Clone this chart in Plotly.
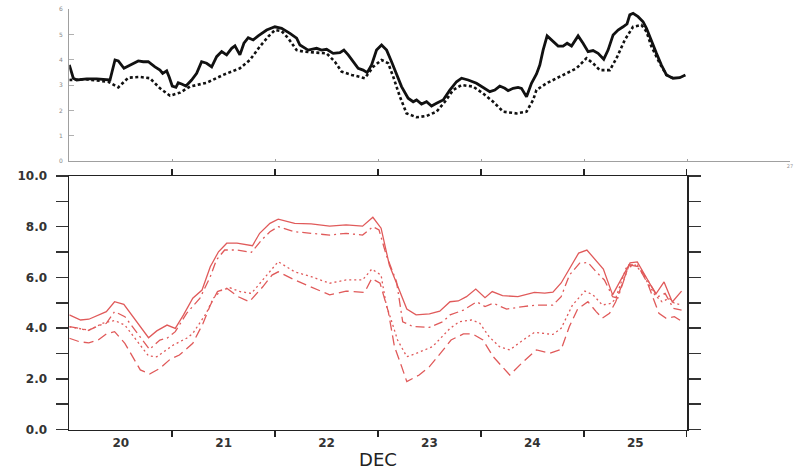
import plotly.graph_objects as go

# ---------------- data (x = days since Dec 20 00Z) ----------------
top_solid_day = [0.000, 0.039, 0.072, 0.169, 0.266, 0.395, 0.444, 0.476, 0.531, 0.589, 0.670, 0.718,
                 0.767, 0.832, 0.881, 0.907, 0.946, 0.971, 1.000, 1.036, 1.058, 1.091, 1.133, 1.188,
                 1.237, 1.285, 1.334, 1.383, 1.431, 1.480, 1.528, 1.577, 1.609, 1.657, 1.696, 1.738,
                 1.786, 1.835, 1.917, 1.997, 2.062, 2.143, 2.208, 2.240, 2.320, 2.402, 2.450, 2.499,
                 2.563, 2.628, 2.667, 2.709, 2.757, 2.806, 2.854, 2.893, 2.936, 2.984, 3.033, 3.082,
                 3.130, 3.179, 3.227, 3.291, 3.340, 3.373, 3.421, 3.470, 3.518, 3.567, 3.631, 3.696,
                 3.761, 3.810, 3.874, 3.955, 4.019, 4.084, 4.133, 4.181, 4.230, 4.262, 4.311, 4.359,
                 4.392, 4.441, 4.489, 4.538, 4.570, 4.602, 4.641, 4.699, 4.748, 4.796, 4.835, 4.878,
                 4.942, 4.990, 5.039, 5.087, 5.136, 5.191, 5.233, 5.282, 5.330, 5.379, 5.417, 5.444,
                 5.476, 5.524, 5.573, 5.606, 5.654, 5.703, 5.751, 5.800, 5.864, 5.929, 5.984]
top_solid_val = [3.80, 3.28, 3.21, 3.25, 3.25, 3.21, 4.00, 3.96, 3.67, 3.80, 3.96, 3.93,
                 3.93, 3.73, 3.60, 3.47, 3.57, 3.32, 2.97, 2.92, 3.10, 3.05, 2.97, 3.21,
                 3.47, 3.93, 3.87, 3.73, 4.13, 4.33, 4.20, 4.46, 4.56, 4.20, 4.66, 4.88,
                 4.79, 4.95, 5.18, 5.31, 5.25, 5.05, 4.86, 4.59, 4.39, 4.46, 4.39, 4.42,
                 4.26, 4.29, 4.39, 4.20, 3.93, 3.67, 3.60, 3.50, 3.80, 4.39, 4.59, 4.39,
                 3.93, 3.47, 2.95, 2.49, 2.35, 2.42, 2.26, 2.35, 2.18, 2.29, 2.42, 2.81,
                 3.14, 3.28, 3.21, 3.08, 2.92, 2.75, 2.81, 2.97, 2.88, 2.79, 2.88, 2.92,
                 2.88, 2.55, 3.08, 3.45, 3.80, 4.39, 4.95, 4.72, 4.55, 4.55, 4.66, 4.55,
                 4.95, 4.66, 4.33, 4.37, 4.26, 4.03, 4.39, 4.99, 5.18, 5.31, 5.42, 5.78,
                 5.84, 5.71, 5.51, 5.25, 4.72, 4.26, 3.80, 3.41, 3.28, 3.30, 3.41]

top_dash_day = [0.000, 0.152, 0.379, 0.476, 0.573, 0.686, 0.783, 0.881, 0.978, 1.075, 1.172, 1.334,
                1.495, 1.657, 1.754, 1.851, 1.932, 1.997, 2.062, 2.126, 2.208, 2.272, 2.369, 2.499,
                2.580, 2.645, 2.742, 2.871, 2.951, 3.033, 3.097, 3.146, 3.211, 3.276, 3.373, 3.470,
                3.567, 3.648, 3.728, 3.810, 3.922, 4.019, 4.117, 4.214, 4.344, 4.441, 4.505, 4.537,
                4.635, 4.732, 4.829, 4.926, 5.023, 5.087, 5.152, 5.250, 5.315, 5.395, 5.476, 5.557,
                5.606, 5.654, 5.735, 5.800, 5.864]
top_dash_val = [3.21, 3.24, 3.14, 2.92, 3.30, 3.33, 3.28, 2.88, 2.59, 2.71, 2.95, 3.10,
                3.41, 3.67, 4.00, 4.53, 4.92, 5.18, 5.14, 4.86, 4.39, 4.33, 4.30, 4.26,
                3.93, 3.54, 3.41, 3.28, 3.73, 4.00, 3.87, 3.34, 2.55, 1.89, 1.74, 1.79,
                1.96, 2.35, 2.81, 3.01, 2.95, 2.68, 2.35, 1.96, 1.89, 1.96, 2.42, 2.81,
                3.08, 3.28, 3.50, 3.67, 4.07, 3.87, 3.60, 3.60, 4.07, 4.79, 5.31, 5.38,
                5.12, 4.53, 3.87, 3.41, 3.28]

bot_solid_day = [0.00, 0.11, 0.19, 0.28, 0.36, 0.44, 0.53, 0.77, 0.85, 0.95, 1.03, 1.11, 1.20,
                 1.29, 1.37, 1.45, 1.53, 1.63, 1.71, 1.78, 1.85, 1.95, 2.03, 2.19, 2.35, 2.53,
                 2.69, 2.85, 2.95, 3.03, 3.11, 3.28, 3.37, 3.50, 3.60, 3.70, 3.78, 3.86, 3.95,
                 4.04, 4.11, 4.21, 4.36, 4.52, 4.62, 4.70, 4.78, 4.95, 5.03, 5.19, 5.28, 5.45,
                 5.52, 5.70, 5.78, 5.86, 5.95]
bot_solid_val = [4.52, 4.32, 4.35, 4.52, 4.65, 5.04, 4.94, 3.62, 3.89, 4.12, 3.99, 4.52, 5.18,
                 5.50, 6.42, 7.01, 7.35, 7.35, 7.31, 7.25, 7.74, 8.13, 8.30, 8.13, 8.11, 8.02,
                 8.07, 8.02, 8.37, 7.94, 6.49, 4.75, 4.52, 4.56, 4.67, 5.04, 5.07, 5.24, 5.54,
                 5.20, 5.44, 5.28, 5.24, 5.41, 5.38, 5.42, 5.78, 6.96, 7.08, 6.33, 5.31, 6.57,
                 6.61, 5.34, 5.82, 5.03, 5.46]

bot_dashdot_day = [0.00, 0.10, 0.18, 0.30, 0.36, 0.44, 0.54, 0.78, 0.88, 0.95, 1.03, 1.14, 1.27,
                   1.37, 1.43, 1.51, 1.63, 1.71, 1.77, 1.87, 1.95, 2.03, 2.19, 2.35, 2.53, 2.69,
                   2.85, 2.95, 3.01, 3.08, 3.18, 3.24, 3.34, 3.50, 3.63, 3.70, 3.83, 3.96, 4.04,
                   4.12, 4.25, 4.41, 4.54, 4.70, 4.78, 4.86, 4.96, 5.04, 5.12, 5.20, 5.28, 5.33,
                   5.44, 5.52, 5.61, 5.72, 5.79, 5.87, 5.95]
bot_dashdot_val = [4.06, 3.99, 3.90, 4.12, 4.19, 4.65, 4.45, 3.16, 3.53, 3.60, 3.86, 4.58, 5.18,
                   6.03, 6.69, 7.08, 7.08, 7.04, 6.99, 7.48, 7.80, 8.00, 7.80, 7.74, 7.67, 7.74,
                   7.67, 8.00, 7.87, 6.88, 5.83, 4.25, 4.06, 4.03, 4.25, 4.52, 4.71, 5.04, 4.85,
                   4.98, 4.75, 4.85, 4.91, 4.91, 5.24, 6.09, 6.56, 6.59, 6.22, 5.90, 5.24, 5.18,
                   6.49, 6.49, 5.96, 5.24, 5.37, 4.78, 4.71]

bot_dot_day = [0.00, 0.19, 0.33, 0.44, 0.54, 0.77, 0.85, 1.01, 1.14, 1.20, 1.33, 1.40, 1.48,
               1.56, 1.66, 1.77, 1.88, 1.97, 2.03, 2.19, 2.35, 2.53, 2.69, 2.85, 2.94, 3.03,
               3.08, 3.13, 3.19, 3.28, 3.37, 3.53, 3.70, 3.79, 3.91, 3.99, 4.08, 4.18, 4.28,
               4.41, 4.52, 4.70, 4.78, 4.89, 5.01, 5.09, 5.18, 5.27, 5.31, 5.41, 5.50, 5.56,
               5.69, 5.76, 5.83, 5.88, 5.95]
bot_dot_val = [4.05, 3.92, 4.20, 4.30, 4.12, 2.90, 2.87, 3.33, 3.60, 3.79, 4.58, 5.18, 5.50,
               5.59, 5.44, 5.37, 5.90, 6.36, 6.62, 6.22, 6.03, 5.77, 5.90, 5.90, 6.33, 6.09,
               4.91, 4.30, 3.53, 2.87, 3.00, 3.27, 3.99, 4.25, 4.32, 4.19, 3.66, 3.27, 3.14,
               3.53, 3.83, 3.75, 3.99, 4.91, 5.46, 5.31, 4.91, 4.98, 5.18, 6.36, 6.49, 6.22,
               5.31, 5.04, 5.18, 4.98, 4.91]

bot_dash_day = [0.00, 0.10, 0.19, 0.28, 0.36, 0.44, 0.54, 0.69, 0.78, 0.88, 0.98, 1.07, 1.20,
                1.30, 1.37, 1.44, 1.53, 1.64, 1.75, 1.88, 1.97, 2.03, 2.19, 2.35, 2.53, 2.69,
                2.87, 2.94, 3.02, 3.10, 3.16, 3.23, 3.28, 3.40, 3.50, 3.62, 3.71, 3.83, 3.92,
                4.02, 4.12, 4.28, 4.41, 4.54, 4.67, 4.78, 4.86, 4.94, 5.04, 5.12, 5.18, 5.25,
                5.31, 5.44, 5.53, 5.62, 5.73, 5.80, 5.88, 5.96]
bot_dash_val = [3.60, 3.46, 3.42, 3.53, 3.77, 3.86, 3.40, 2.35, 2.19, 2.41, 2.77, 2.94, 3.40,
                4.19, 4.90, 5.44, 5.57, 5.24, 5.04, 5.63, 6.09, 6.22, 5.90, 5.63, 5.31, 5.46,
                5.41, 5.96, 5.77, 4.65, 3.27, 2.48, 1.89, 2.15, 2.48, 3.07, 3.53, 3.77, 3.77,
                3.53, 2.87, 2.15, 2.67, 3.14, 3.01, 3.16, 4.06, 4.75, 5.04, 4.65, 4.39, 4.58,
                5.04, 6.49, 6.42, 5.77, 4.58, 4.39, 4.45, 4.25]

top_ytick_vals = [0, 1, 2, 3, 4, 5, 6]
top_ytick_text = ["0", "1", "2", "3", "4", "5", "6"]
top_xtick_vals = [1, 2, 3, 4, 5, 6, 7]
top_xtick_text = ["", "", "", "", "", "", "27"]
bot_ytick_vals = [0, 1, 2, 3, 4, 5, 6, 7, 8, 9, 10]
bot_ytick_text = ["0.0", "", "2.0", "", "4.0", "", "6.0", "", "8.0", "", "10.0"]
day_label_pos = [0.5, 1.5, 2.5, 3.5, 4.5, 5.5]
day_labels = ["20", "21", "22", "23", "24", "25"]
day_bounds = [1, 2, 3, 4, 5, 6]

# ---------------- figure ----------------
W, H = 798, 476
def px(x):
    return x / W
def py(y):
    return 1 - y / H

RED = "#e05a5a"
fig = go.Figure()

fig.add_trace(go.Scatter(x=top_dash_day, y=top_dash_val, mode="lines",
                         line=dict(color="#111", width=2.6, dash="3px,2.5px"),
                         xaxis="x", yaxis="y", showlegend=False))
fig.add_trace(go.Scatter(x=top_solid_day, y=top_solid_val, mode="lines",
                         line=dict(color="#111", width=2.8),
                         xaxis="x", yaxis="y", showlegend=False))

for xs, ys, dash in [(bot_solid_day, bot_solid_val, "solid"),
                     (bot_dashdot_day, bot_dashdot_val, "9px,4px,2px,4px"),
                     (bot_dot_day, bot_dot_val, "2px,3px"),
                     (bot_dash_day, bot_dash_val, "10px,5px")]:
    fig.add_trace(go.Scatter(x=xs, y=ys, mode="lines",
                             line=dict(color=RED, width=1.3, dash=dash),
                             xaxis="x2", yaxis="y2", showlegend=False))

# invisible trace for label axis
fig.add_trace(go.Scatter(x=[0, 6], y=[0, 0], mode="lines", line=dict(width=0),
                         xaxis="x3", yaxis="y2", showlegend=False, hoverinfo="skip"))

x0 = px(69.3)
fig.update_layout(
    template="none",
    width=W, height=H,
    margin=dict(l=0, r=0, t=0, b=0, autoexpand=False),
    paper_bgcolor="white", plot_bgcolor="white",
    xaxis=dict(domain=[x0, px(790)], anchor="y", range=[0, 7], automargin=False,
               showgrid=False, zeroline=False,
               showline=True, linecolor="#a0a0a0", linewidth=1,
               tickmode="array", tickvals=top_xtick_vals, ticktext=top_xtick_text,
               ticks="inside", ticklen=2, tickcolor="#a0a0a0",
               tickfont=dict(size=5, color="#999", family="DejaVu Sans")),
    yaxis=dict(domain=[py(161.3), py(9.3)], anchor="x", range=[0, 6], automargin=False,
               showgrid=False, zeroline=False,
               showline=True, linecolor="#a0a0a0", linewidth=1.2,
               tickmode="array", tickvals=top_ytick_vals, ticktext=top_ytick_text,
               ticks="inside", ticklen=5, tickcolor="#b0b0b0", ticklabelstandoff=4,
               tickfont=dict(size=6, color="#888", family="DejaVu Sans")),
    xaxis2=dict(domain=[x0, px(686.7)], anchor="y2", range=[0, 6], automargin=False,
                showgrid=False, zeroline=False,
                showline=True, linecolor="#222", linewidth=1.5, mirror="ticks",
                tickmode="array", tickvals=day_bounds, ticktext=["", "", "", "", "", ""],
                ticks="outside", ticklen=6, tickwidth=1.5, tickcolor="#222"),
    xaxis3=dict(domain=[x0, px(686.7)], anchor="y2", range=[0, 6], overlaying="x2",
                automargin=False,
                showgrid=False, zeroline=False, showline=False,
                tickmode="array", tickvals=day_label_pos, ticktext=day_labels,
                ticks="", ticklabelstandoff=4,
                tickfont=dict(size=12, color="#333", family="DejaVu Sans", weight="bold"),
                title=dict(text="DEC", standoff=4,
                           font=dict(size=18, color="#222", family="DejaVu Sans"))),
    yaxis2=dict(domain=[py(429.5), py(176)], anchor="x2", range=[0, 10], automargin=False,
                showgrid=False, zeroline=False,
                showline=True, linecolor="#222", linewidth=1.8, mirror="ticks",
                tickmode="array", tickvals=bot_ytick_vals, ticktext=bot_ytick_text,
                ticks="outside", ticklen=12, tickwidth=1.5, tickcolor="#333",
                ticklabelstandoff=6,
                tickfont=dict(size=12, color="#333", family="DejaVu Sans", weight="bold")),
)

fig.write_html("out.html",
               config={"displayModeBar": False, "staticPlot": True},
               post_script="document.body.style.margin='0px';"
                           "document.documentElement.style.overflow='hidden';")
